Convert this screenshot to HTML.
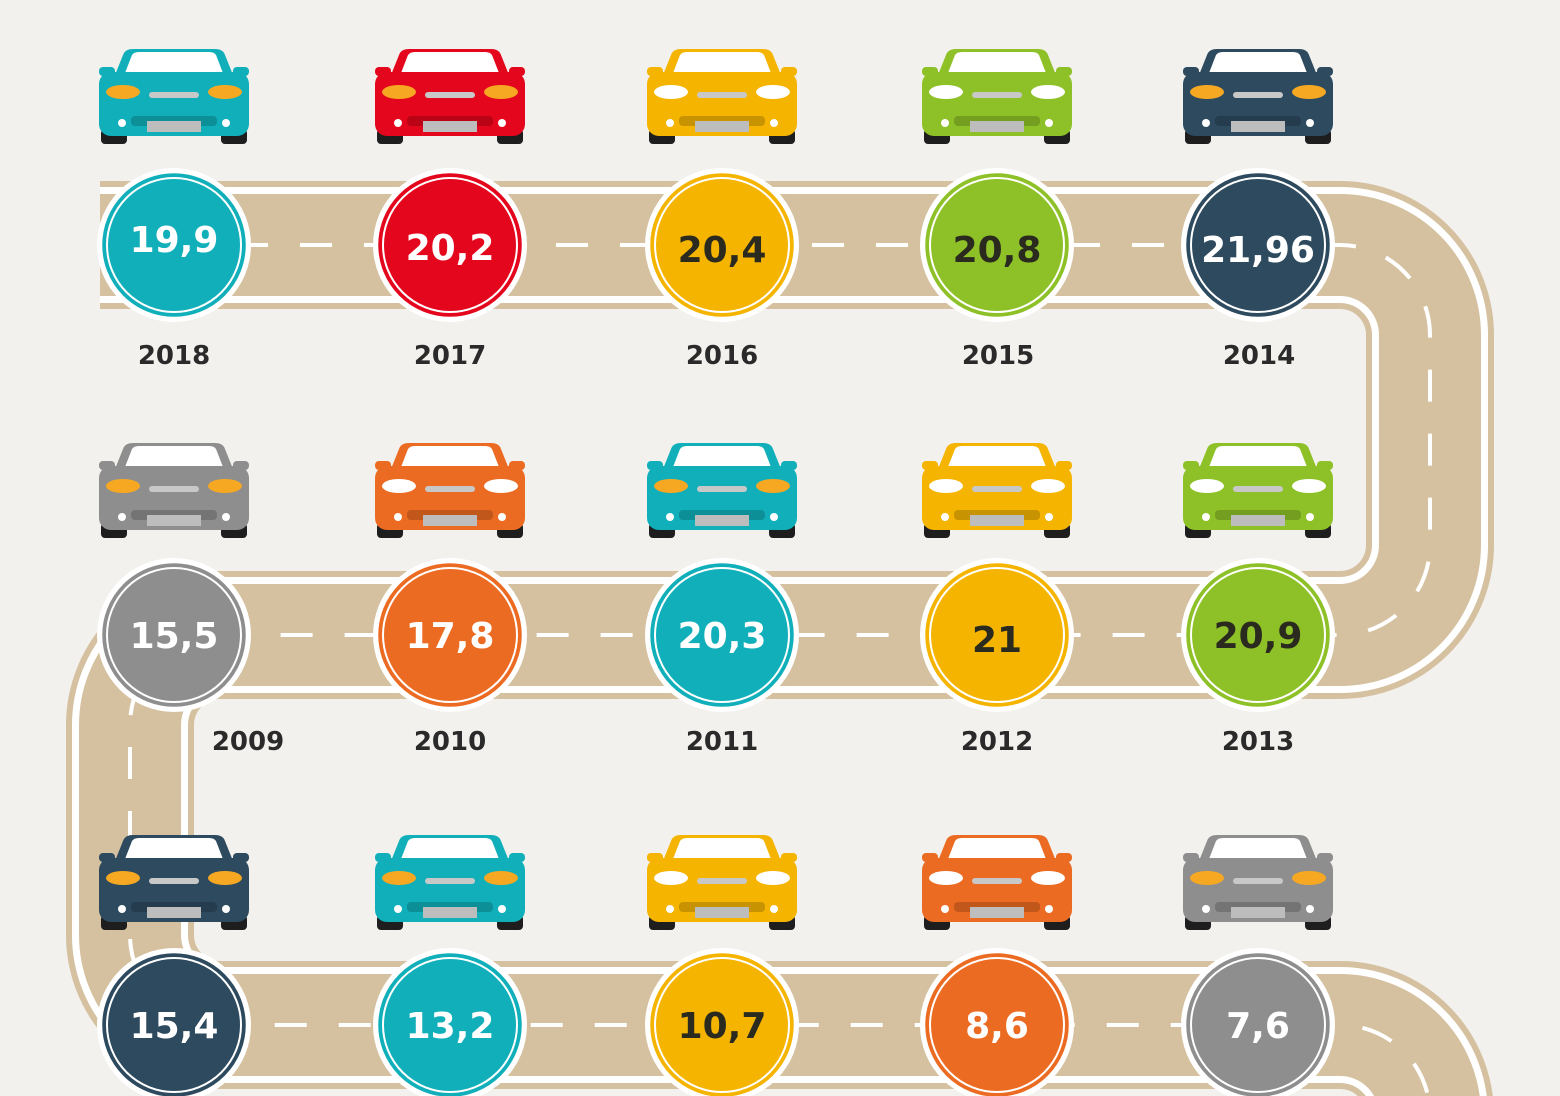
<!DOCTYPE html>
<html><head><meta charset="utf-8"><style>
html,body{margin:0;padding:0;background:#f3f1ed;}
svg{display:block}
text{font-family:"DejaVu Sans","Liberation Sans",sans-serif;font-weight:bold;text-anchor:middle}
</style></head><body>
<svg width="1560" height="1096" viewBox="0 0 1560 1096" xmlns="http://www.w3.org/2000/svg">
<defs>
<g id="car">
  <path d="M24,8 Q26,2 34,2 L116,2 Q124,2 126,8 L134,28 L16,28 Z" fill="currentColor"/>
  <path d="M33,8 Q35,5 40,5 L110,5 Q115,5 117,8 L124,26 L26,26 Z" fill="#fff"/>
  <rect x="0" y="20" width="16" height="9" rx="4" fill="currentColor"/>
  <rect x="134" y="20" width="16" height="9" rx="4" fill="currentColor"/>
  <rect x="0" y="25" width="150" height="64" rx="12" fill="currentColor"/>
</g>
<g id="wheels">
  <rect x="2" y="82" width="26" height="15" rx="4" fill="#1e1e1e"/>
  <rect x="122" y="82" width="26" height="15" rx="4" fill="#1e1e1e"/>
</g>
<g id="front">
  <rect x="50" y="45" width="50" height="6" rx="3" fill="#c8c8c8"/>
  <rect x="32" y="69" width="86" height="10" rx="4" fill="#000" opacity="0.18"/>
  <rect x="48" y="74" width="54" height="11" fill="#bdbdbd"/>
  <circle cx="23" cy="76" r="4" fill="#fff"/>
  <circle cx="127" cy="76" r="4" fill="#fff"/>
</g>
</defs>

<!-- road -->
<g fill="none">
<path id="road" d="M100,245 H1340 A90,90 0 0 1 1430,335 V545 A90,90 0 0 1 1340,635 H220 A90,90 0 0 0 130,725 V935 A90,90 0 0 0 220,1025 H1340 A90,90 0 0 1 1430,1115" stroke="#d5c1a0" stroke-width="128"/>
<path d="M100,245 H1340 A90,90 0 0 1 1430,335 V545 A90,90 0 0 1 1340,635 H220 A90,90 0 0 0 130,725 V935 A90,90 0 0 0 220,1025 H1340 A90,90 0 0 1 1430,1115" stroke="#fff" stroke-width="116"/>
<path d="M100,245 H1340 A90,90 0 0 1 1430,335 V545 A90,90 0 0 1 1340,635 H220 A90,90 0 0 0 130,725 V935 A90,90 0 0 0 220,1025 H1340 A90,90 0 0 1 1430,1115" stroke="#d5c1a0" stroke-width="102"/>
<path d="M100,245 H1340 A90,90 0 0 1 1430,335 V545 A90,90 0 0 1 1340,635 H220 A90,90 0 0 0 130,725 V935 A90,90 0 0 0 220,1025 H1340 A90,90 0 0 1 1430,1115" stroke="#fff" stroke-width="4" stroke-dasharray="32,32" stroke-dashoffset="-8"/>
</g>

<!-- cars -->
<g>
<!-- row1 -->
<g transform="translate(99,47)"><use href="#wheels"/><use href="#car" style="color:#10afba"/><use href="#front"/><ellipse cx="24" cy="45" rx="17" ry="7" fill="#f7a823"/><ellipse cx="126" cy="45" rx="17" ry="7" fill="#f7a823"/></g>
<g transform="translate(375,47)"><use href="#wheels"/><use href="#car" style="color:#e3061c"/><use href="#front"/><ellipse cx="24" cy="45" rx="17" ry="7" fill="#f7a823"/><ellipse cx="126" cy="45" rx="17" ry="7" fill="#f7a823"/></g>
<g transform="translate(647,47)"><use href="#wheels"/><use href="#car" style="color:#f4b400"/><use href="#front"/><ellipse cx="24" cy="45" rx="17" ry="7" fill="#fff"/><ellipse cx="126" cy="45" rx="17" ry="7" fill="#fff"/></g>
<g transform="translate(922,47)"><use href="#wheels"/><use href="#car" style="color:#8dc127"/><use href="#front"/><ellipse cx="24" cy="45" rx="17" ry="7" fill="#fff"/><ellipse cx="126" cy="45" rx="17" ry="7" fill="#fff"/></g>
<g transform="translate(1183,47)"><use href="#wheels"/><use href="#car" style="color:#2d4a5f"/><use href="#front"/><ellipse cx="24" cy="45" rx="17" ry="7" fill="#f7a823"/><ellipse cx="126" cy="45" rx="17" ry="7" fill="#f7a823"/></g>
<!-- row2 -->
<g transform="translate(99,441)"><use href="#wheels"/><use href="#car" style="color:#8e8e8e"/><use href="#front"/><ellipse cx="24" cy="45" rx="17" ry="7" fill="#f7a823"/><ellipse cx="126" cy="45" rx="17" ry="7" fill="#f7a823"/></g>
<g transform="translate(375,441)"><use href="#wheels"/><use href="#car" style="color:#ec6b22"/><use href="#front"/><ellipse cx="24" cy="45" rx="17" ry="7" fill="#fff"/><ellipse cx="126" cy="45" rx="17" ry="7" fill="#fff"/></g>
<g transform="translate(647,441)"><use href="#wheels"/><use href="#car" style="color:#10afba"/><use href="#front"/><ellipse cx="24" cy="45" rx="17" ry="7" fill="#f7a823"/><ellipse cx="126" cy="45" rx="17" ry="7" fill="#f7a823"/></g>
<g transform="translate(922,441)"><use href="#wheels"/><use href="#car" style="color:#f4b400"/><use href="#front"/><ellipse cx="24" cy="45" rx="17" ry="7" fill="#fff"/><ellipse cx="126" cy="45" rx="17" ry="7" fill="#fff"/></g>
<g transform="translate(1183,441)"><use href="#wheels"/><use href="#car" style="color:#8dc127"/><use href="#front"/><ellipse cx="24" cy="45" rx="17" ry="7" fill="#fff"/><ellipse cx="126" cy="45" rx="17" ry="7" fill="#fff"/></g>
<!-- row3 -->
<g transform="translate(99,833)"><use href="#wheels"/><use href="#car" style="color:#2d4a5f"/><use href="#front"/><ellipse cx="24" cy="45" rx="17" ry="7" fill="#f7a823"/><ellipse cx="126" cy="45" rx="17" ry="7" fill="#f7a823"/></g>
<g transform="translate(375,833)"><use href="#wheels"/><use href="#car" style="color:#10afba"/><use href="#front"/><ellipse cx="24" cy="45" rx="17" ry="7" fill="#f7a823"/><ellipse cx="126" cy="45" rx="17" ry="7" fill="#f7a823"/></g>
<g transform="translate(647,833)"><use href="#wheels"/><use href="#car" style="color:#f4b400"/><use href="#front"/><ellipse cx="24" cy="45" rx="17" ry="7" fill="#fff"/><ellipse cx="126" cy="45" rx="17" ry="7" fill="#fff"/></g>
<g transform="translate(922,833)"><use href="#wheels"/><use href="#car" style="color:#ec6b22"/><use href="#front"/><ellipse cx="24" cy="45" rx="17" ry="7" fill="#fff"/><ellipse cx="126" cy="45" rx="17" ry="7" fill="#fff"/></g>
<g transform="translate(1183,833)"><use href="#wheels"/><use href="#car" style="color:#8e8e8e"/><use href="#front"/><ellipse cx="24" cy="45" rx="17" ry="7" fill="#f7a823"/><ellipse cx="126" cy="45" rx="17" ry="7" fill="#f7a823"/></g>
</g>

<!-- circles -->
<g stroke-width="2.5">
<g fill="#fff"><circle cx="174" cy="245" r="77"/><circle cx="450" cy="245" r="77"/><circle cx="722" cy="245" r="77"/><circle cx="997" cy="245" r="77"/><circle cx="1258" cy="245" r="77"/>
<circle cx="174" cy="635" r="77"/><circle cx="450" cy="635" r="77"/><circle cx="722" cy="635" r="77"/><circle cx="997" cy="635" r="77"/><circle cx="1258" cy="635" r="77"/>
<circle cx="174" cy="1025" r="77"/><circle cx="450" cy="1025" r="77"/><circle cx="722" cy="1025" r="77"/><circle cx="997" cy="1025" r="77"/><circle cx="1258" cy="1025" r="77"/></g>
<g stroke="#fff">
<circle cx="174" cy="245" r="73" fill="#10afba"/><circle cx="450" cy="245" r="73" fill="#e3061c"/><circle cx="722" cy="245" r="73" fill="#f4b400"/><circle cx="997" cy="245" r="73" fill="#8dc127"/><circle cx="1258" cy="245" r="73" fill="#2d4a5f"/>
<circle cx="174" cy="635" r="73" fill="#8e8e8e"/><circle cx="450" cy="635" r="73" fill="#ec6b22"/><circle cx="722" cy="635" r="73" fill="#10afba"/><circle cx="997" cy="635" r="73" fill="#f4b400"/><circle cx="1258" cy="635" r="73" fill="#8dc127"/>
<circle cx="174" cy="1025" r="73" fill="#2d4a5f"/><circle cx="450" cy="1025" r="73" fill="#10afba"/><circle cx="722" cy="1025" r="73" fill="#f4b400"/><circle cx="997" cy="1025" r="73" fill="#ec6b22"/><circle cx="1258" cy="1025" r="73" fill="#8e8e8e"/>
</g>
<g fill="none" stroke="#fff" stroke-width="2">
<circle cx="174" cy="245" r="67"/><circle cx="450" cy="245" r="67"/><circle cx="722" cy="245" r="67"/><circle cx="997" cy="245" r="67"/><circle cx="1258" cy="245" r="67"/>
<circle cx="174" cy="635" r="67"/><circle cx="450" cy="635" r="67"/><circle cx="722" cy="635" r="67"/><circle cx="997" cy="635" r="67"/><circle cx="1258" cy="635" r="67"/>
<circle cx="174" cy="1025" r="67"/><circle cx="450" cy="1025" r="67"/><circle cx="722" cy="1025" r="67"/><circle cx="997" cy="1025" r="67"/><circle cx="1258" cy="1025" r="67"/>
</g>
</g>

<!-- values -->
<g font-size="36">
<text x="174" y="252" fill="#fff">19,9</text>
<text x="450" y="260" fill="#fff">20,2</text>
<text x="722" y="262" fill="#2a2a1e">20,4</text>
<text x="997" y="262" fill="#2a2a1e">20,8</text>
<text x="1258" y="262" fill="#fff">21,96</text>
<text x="174" y="648" fill="#fff">15,5</text>
<text x="450" y="648" fill="#fff">17,8</text>
<text x="722" y="648" fill="#fff">20,3</text>
<text x="997" y="652" fill="#2a2a1e">21</text>
<text x="1258" y="648" fill="#2a2a1e">20,9</text>
<text x="174" y="1038" fill="#fff">15,4</text>
<text x="450" y="1038" fill="#fff">13,2</text>
<text x="722" y="1038" fill="#2a2a1e">10,7</text>
<text x="997" y="1038" fill="#fff">8,6</text>
<text x="1258" y="1038" fill="#fff">7,6</text>
</g>
<!-- years -->
<g font-size="26" fill="#2a2a2a">
<text x="174" y="364">2018</text><text x="450" y="364">2017</text><text x="722" y="364">2016</text><text x="998" y="364">2015</text><text x="1259" y="364">2014</text>
<text x="248" y="750">2009</text><text x="450" y="750">2010</text><text x="722" y="750">2011</text><text x="997" y="750">2012</text><text x="1258" y="750">2013</text>
</g>
</svg>
</body></html>
